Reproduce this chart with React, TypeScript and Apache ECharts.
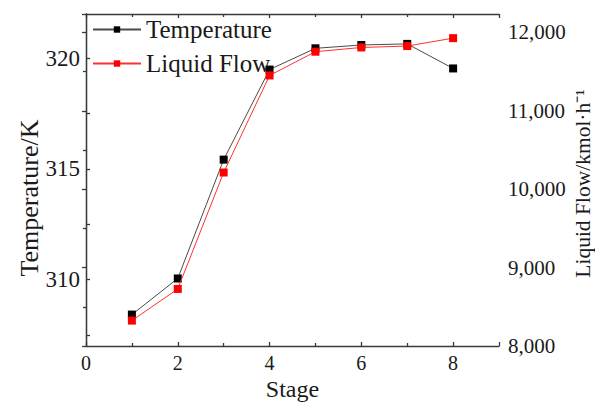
import React, { useEffect, useRef } from "react";
import * as echarts from "echarts";

const stages = [1, 2, 3, 4, 5, 6, 7, 8];
const temperature = [308.42, 310.05, 315.42, 319.49, 320.45, 320.6, 320.65, 319.54];
const liquidFlow = [8324, 8728, 10213, 11451, 11754, 11808, 11826, 11927];
const tempTicks = [307.5, 310, 312.5, 315, 317.5, 320];
const tempLabels = [310, 315, 320];

const FONT = "Liberation Serif";
const TXT = "#1a1a1a";
const AX = "#3a3a3a";

export default function App() {
  const ref = useRef<HTMLDivElement>(null);
  useEffect(() => {
    const chart = echarts.init(ref.current!, null, { renderer: "svg" });
    const axisLine = { show: true, lineStyle: { color: AX, width: 1.3 } };
    const axisTick = { show: true, inside: true, length: 4, lineStyle: { color: AX, width: 1.3 } };
    const minorTick = { show: true, splitNumber: 2, length: 3, lineStyle: { color: AX, width: 1.3 } };
    chart.setOption({
      animation: false,
      backgroundColor: "#fff",
      textStyle: { fontFamily: FONT, color: TXT },
      grid: { left: 86, right: 96, top: 14, bottom: 59, outerBoundsMode: "none", containLabel: false },
      legend: {
        left: 92,
        top: 17,
        padding: 0,
        orient: "vertical",
        itemWidth: 48,
        itemHeight: 8,
        itemGap: 9,
        textStyle: { fontFamily: FONT, fontSize: 25, color: TXT },
        data: ["Temperature", "Liquid Flow"],
      },
      xAxis: [
        {
          type: "value",
          min: 0,
          max: 9,
          interval: 2,
          name: "Stage",
          nameLocation: "middle",
          nameGap: 31,
          nameMoveOverlap: false,
          nameTextStyle: { fontFamily: FONT, fontSize: 24, color: TXT },
          axisLabel: { fontFamily: FONT, fontSize: 20, color: TXT, margin: 7, showMaxLabel: false },
          axisLine,
          axisTick,
          minorTick,
          splitLine: { show: false },
        },
        {
          type: "value",
          position: "top",
          min: 0,
          max: 9,
          interval: 2,
          axisLabel: { show: false },
          axisLine,
          axisTick,
          minorTick,
          splitLine: { show: false },
        },
      ],
      yAxis: [
        {
          type: "value",
          position: "left",
          min: 307,
          max: 322,
          name: "Temperature/K",
          nameLocation: "middle",
          nameGap: 44,
          nameMoveOverlap: false,
          nameTextStyle: { fontFamily: FONT, fontSize: 26, color: TXT, padding: [0, 36, 0, 0] },
          axisLabel: {
            fontFamily: FONT,
            fontSize: 23,
            color: TXT,
            margin: 6,
            customValues: tempLabels,
          },
          axisLine,
          axisTick: { ...axisTick, customValues: tempTicks },
          splitLine: { show: false },
        },
        {
          type: "value",
          position: "right",
          min: 8000,
          max: 12235,
          interval: 1000,
          name: "Liquid Flow/kmol·h⁻¹",
          nameLocation: "middle",
          nameGap: 73,
          nameMoveOverlap: false,
          nameTextStyle: { fontFamily: FONT, fontSize: 21.5, color: TXT, padding: [0, 7, 0, 0] },
          axisLabel: {
            fontFamily: FONT,
            fontSize: 21,
            color: TXT,
            margin: 9,
            showMaxLabel: false,
            formatter: (v: number) => v.toLocaleString("en-US"),
          },
          axisLine,
          axisTick,
          minorTick,
          splitLine: { show: false },
        },
      ],
      series: [
        {
          name: "Temperature",
          type: "line",
          xAxisIndex: 0,
          yAxisIndex: 0,
          data: stages.map((s, i) => [s, temperature[i]]),
          symbol: "rect",
          symbolSize: 8,
          itemStyle: { color: "#000" },
          lineStyle: { color: "#4a4a4a", width: 1 },
          z: 3,
        },
        {
          name: "Liquid Flow",
          type: "line",
          xAxisIndex: 0,
          yAxisIndex: 1,
          data: stages.map((s, i) => [s, liquidFlow[i]]),
          symbol: "rect",
          symbolSize: 8,
          itemStyle: { color: "#ff0000" },
          lineStyle: { color: "#ff3030", width: 1 },
          z: 4,
        },
      ],
    });
    return () => chart.dispose();
  }, []);
  return <div ref={ref} style={{ width: 595, height: 405, position: "absolute", left: 0, top: 0 }} />;
}
